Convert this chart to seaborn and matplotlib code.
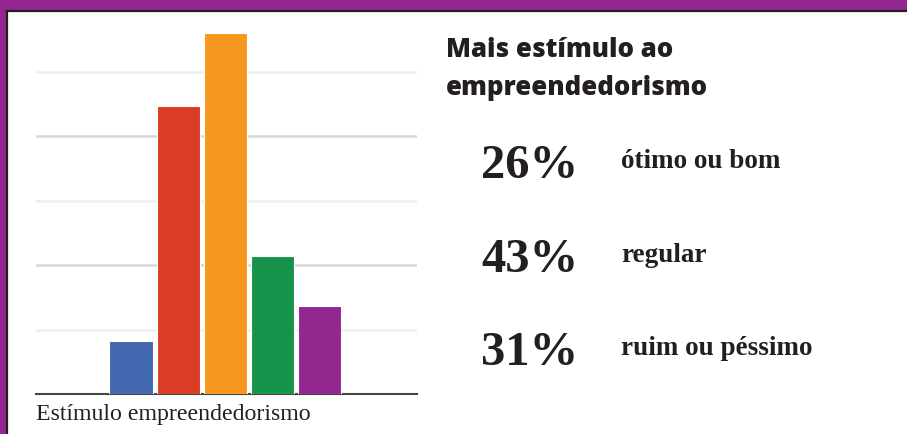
import matplotlib as mpl; mpl.use("Agg")
import matplotlib.pyplot as plt
from matplotlib.patches import Rectangle
import seaborn as sns
import pandas as pd

# ---- dados ----
CATS = ["a", "b", "c", "d", "e"]
VALS = [8.2, 44.6, 56.0, 21.4, 13.7]
COLS = ["#4267B0", "#DA3C26", "#F7981E", "#16934A", "#92278F"]
PCTS = ["26%", "43%", "31%"]
LABS = ["ótimo ou bom", "regular", "ruim ou péssimo"]
TITLE = ["Mais estímulo ao", "empreendedorismo"]
XLAB = "Estímulo empreendedorismo"

W, H = 907, 434
sns.set_theme(style="white")
fig = plt.figure(figsize=(W/100, H/100), dpi=100)
fig.patch.set_facecolor("#93278F")
def px(x, y): return x/W, 1-y/H
# painel branco com borda preta (sai pela direita e por baixo)
fig.patches.append(Rectangle(px(7, 444), (W+10)/W, (444-11)/H, transform=fig.transFigure,
                             facecolor="white", edgecolor="#231F20", linewidth=1.6, zorder=-5))

ax = fig.add_axes([36/W, (H-394)/H, 381/W, (394-33)/H], zorder=2)
df = pd.DataFrame({"cat": CATS, "val": VALS})
sns.barplot(data=df, x="cat", y="val", hue="cat", palette=COLS, legend=False,
            width=0.915, edgecolor="white", linewidth=0.8, saturation=1, ax=ax, zorder=3)
ax.set_xlim(-2.02, 6.08); ax.set_ylim(0, 56.0)
ax.set_yticks([10, 20, 30, 40, 50])
ax.yaxis.grid(True, linewidth=1.8)
for i, g in enumerate(ax.get_ygridlines()):
    g.set_color("#d6d6d6" if i % 2 else "#eeeeee")
ax.set_axisbelow(True)
ax.tick_params(left=False, bottom=False, labelleft=False, labelbottom=False)
ax.set_xlabel(""); ax.set_ylabel("")
ax.set_facecolor("none")
for s in ("top", "right", "left"): ax.spines[s].set_visible(False)
ax.spines["bottom"].set_color("#444444"); ax.spines["bottom"].set_linewidth(1.5)

fig.text(*px(36, 420), XLAB, family="Liberation Serif", fontsize=17.2, color="#231F20", va="baseline")

for t, yb in zip(TITLE, [57, 95]):
    fig.text(*px(446, yb), t, family="Open Sans", fontweight="heavy", fontsize=18.5,
             color="#231F20", va="baseline")
for p, l, yn, yl in zip(PCTS, LABS, [178, 272, 365], [168, 262, 355]):
    fig.text(*px(481, yn), p, family="Liberation Serif", fontweight="bold", fontsize=35,
             color="#231F20", va="baseline")
    fig.text(*px(621, yl), l, family="Liberation Serif", fontweight="bold", fontsize=19.5,
             color="#231F20", va="baseline")

fig.savefig("out.png", dpi=100, facecolor=fig.get_facecolor())
